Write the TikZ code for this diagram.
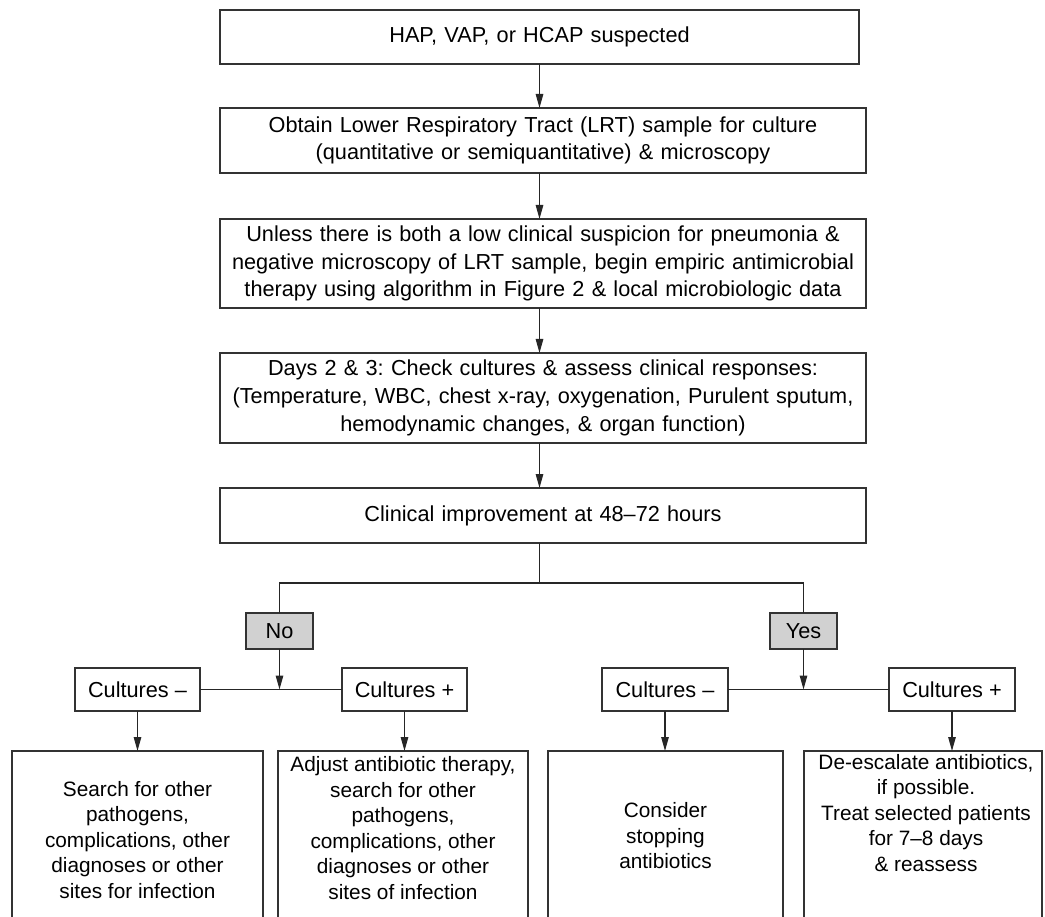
\documentclass[tikz,border=0pt]{standalone}
\usepackage{fontspec}
\setmainfont{Liberation Sans}
\usetikzlibrary{arrows.meta}
\frenchspacing
\begin{document}
\begin{tikzpicture}[x=1pt,y=-1pt,
  every node/.style={inner sep=0pt, outer sep=0pt},
  box/.style={draw=black!80, line width=1.4pt, align=center, font=\fontsize{21.7}{27.7}\selectfont},
  gbox/.style={box, fill=black!18},
  frame/.style={draw=black!80, line width=1.4pt, anchor=north},
  conn/.style={draw=black!85, line width=1.2pt},
  arr/.style={conn, -{Triangle[length=14pt,width=7.5pt]}},
  txt/.style={align=center, font=\fontsize{20.8}{25.5}\selectfont}
]
\useasboundingbox (0,0) rectangle (1045,917);

% main column
\node[box, minimum width=639pt, minimum height=54pt, text width=620pt] (b1) at (539.5,37) {HAP, VAP, or HCAP suspected};
\node[box, minimum width=646pt, minimum height=65pt, text width=630pt] (b2) at (543,140.5) {Obtain Lower Respiratory Tract (LRT) sample for culture\\(quantitative or semiquantitative) \& microscopy};
\node[box, minimum width=646pt, minimum height=89pt, text width=630pt] (b3) at (543,263.5) {Unless there is both a low clinical suspicion for pneumonia \&\\negative microscopy of LRT sample, begin empiric antimicrobial\\therapy using algorithm in Figure 2 \& local microbiologic data};
\node[box, minimum width=646pt, minimum height=90pt, text width=630pt] (b4) at (543,398) {Days 2 \& 3: Check cultures \& assess clinical responses:\\(Temperature, WBC, chest x-ray, oxygenation, Purulent sputum,\\hemodynamic changes, \& organ function)};
\node[box, minimum width=646pt, minimum height=55pt, text width=630pt] (b5) at (543,515.5) {Clinical improvement at 48–72 hours};

\draw[arr] (b1.south) -- (b1.south |- b2.north);
\draw[arr] (b2.south -| b1.south) -- (b1.south |- b3.north);
\draw[arr] (b3.south -| b1.south) -- (b1.south |- b4.north);
\draw[arr] (b4.south -| b1.south) -- (b1.south |- b5.north);

% decision
\node[gbox, minimum width=67pt, minimum height=36pt] (no) at (279.5,631) {No};
\node[gbox, minimum width=67pt, minimum height=36pt] (yes) at (803.5,631) {Yes};
\coordinate (jL) at (279.5,583);
\coordinate (jR) at (803.5,583);
\draw[conn] (b5.south -| b1.south) -- (b1.south |- jL);
\draw[conn] (no.north) -- (jL) -- (jR) -- (yes.north);

% cultures
\node[box, minimum width=125pt, minimum height=43pt] (cm1) at (137.5,689.5) {Cultures –};
\node[box, minimum width=125pt, minimum height=43pt] (cp1) at (404.5,689.5) {Cultures +};
\node[box, minimum width=126pt, minimum height=43pt] (cm2) at (665,689.5) {Cultures –};
\node[box, minimum width=126pt, minimum height=43pt] (cp2) at (952,689.5) {Cultures +};
\draw[conn] (cm1.east) -- (cp1.west);
\draw[conn] (cm2.east) -- (cp2.west);
\draw[arr] (no.south) -- (no.south |- cm1.east);
\draw[arr] (yes.south) -- (yes.south |- cm2.east);

% outcome frames (open at the bottom edge of the picture)
\node[frame, minimum width=251pt, minimum height=190pt] (o1) at (137.5,751) {};
\node[frame, minimum width=250pt, minimum height=190pt] (o2) at (403,751) {};
\node[frame, minimum width=235pt, minimum height=190pt] (o3) at (665.5,751) {};
\node[frame, minimum width=238pt, minimum height=190pt] (o4) at (923,751) {};

\draw[arr] (cm1.south) -- (cm1.south |- o1.north);
\draw[arr] (cp1.south) -- (cp1.south |- o2.north);
\draw[arr] (cm2.south) -- (cm2.south |- o3.north);
\draw[arr] (cp2.south) -- (cp2.south |- o4.north);

\node[txt] (t1) at (137.5,840) {Search for other\\pathogens,\\complications, other\\diagnoses or other\\sites for infection};
\node[txt] (t2) at (403,828) {Adjust antibiotic therapy,\\search for other\\pathogens,\\complications, other\\diagnoses or other\\sites of infection};
\node[txt] (t3) at (665.5,836) {Consider\\stopping\\antibiotics};
\node[txt] (t4) at (926,813) {De-escalate antibiotics,\\if possible.\\Treat selected patients\\for 7–8 days\\\& reassess};
\end{tikzpicture}
\end{document}
